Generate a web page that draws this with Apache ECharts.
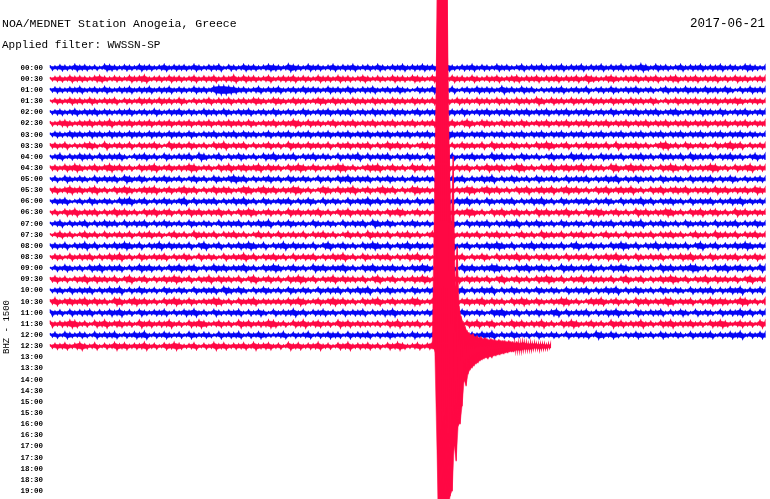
<!DOCTYPE html>
<html><head><meta charset="utf-8">
<script src="https://cdn.jsdelivr.net/npm/echarts@6/dist/echarts.min.js"></script>
<style>html,body{margin:0;padding:0;background:#fff}#c{width:770px;height:499px}</style>
</head><body><div id="c"></div>
<script>
// Row tick labels (30-minute rows)
const timeLabels = ['00:00','00:30','01:00','01:30','02:00','02:30','03:00','03:30','04:00','04:30',
  '05:00','05:30','06:00','06:30','07:00','07:30','08:00','08:30','09:00','09:30',
  '10:00','10:30','11:00','11:30','12:00','12:30','13:00','13:30','14:00','14:30',
  '15:00','15:30','16:00','16:30','17:00','17:30','18:00','18:30','19:00','19:30',
  '20:00','20:30','21:00','21:30','22:00','22:30','23:00','23:30'];

// Trace envelope amplitude (counts, one sample per 12.5 s) for full rows 00:00 .. 12:00
const rowNoise = [
 '54654 75645 37654 65475 64574 65647 54657 36547 56457 65486 54756 45746 57456 47546 57465 75648 75465 74654 75645 74657 46574 65746 57465 74658 64756 45746 57465 74654 76545',
 '45647 56546 75465 47568 45647 56457 46574 65847 56457 45657 46547 56475 64575 46547 56476 54765 47564 75465 74567 46574 65746 57486 54675 46574 65745 67465 74657 46475 64565',
 '46546 57456 47546 57465 74657 46547 56489 98756 45746 57456 47565 47564 75465 74564 75436 54765 47356 47565 48564 75635 46574 56473 56475 46574 56357 46475 64756 47536 47565',
 '36547 56475 46573 65475 64756 47536 45746 57456 47654 76547 56457 64756 47564 75647 56475 64755 64756 47564 75647 56486 47564 75647 56475 64756 47536 47565 74657 46576 45654',
 '45645 74657 46546 57456 47546 57465 47564 75465 74564 75465 47546 57465 74564 75647 56457 46574 56475 46574 65746 57465 74657 46574 56475 46574 65745 67456 47564 75465 74565',
 '54675 46574 65846 57465 74657 46574 65746 57564 75465 74658 64756 45746 57465 74657 46574 65746 57468 54765 47564 75465 74657 46574 65746 57465 74657 46574 65746 57465 74656',
 '46547 56475 64756 47564 75647 56475 46574 65747 56457 46574 65746 57465 74657 46574 65746 57465 86574 65746 57465 74657 46574 65746 57465 74657 46574 65746 57465 74657 46545',
 '56473 54675 38456 47365 57438 56475 46375 84657 36457 46385 64756 47365 74657 36485 74635 76458 36475 64738 56475 46375 86457 36475 64738 46574 63578 46375 46537 46857 36465',
 '45736 47563 74657 43657 46375 46573 86457 36475 46375 84657 36574 65374 65837 46573 64756 37456 47365 74638 57463 75463 57463 85746 37564 73657 46375 64738 56473 65746 35746',
 '56475 86457 46857 46375 68457 46587 45637 58467 56847 56375 86475 46587 46357 68457 46385 74658 74657 36485 76458 74637 58467 56847 56387 46857 46375 86475 46587 46375 68465',
 '46375 46537 46573 86475 36475 46357 46375 46857 36457 46375 46537 46375 84657 36475 46375 46537 46573 64758 36475 46375 46537 46573 64758 36475 46375 46537 46573 64753 64564',
 '57468 57468 46375 86457 68457 46857 36485 76458 74685 74658 74635 86475 68457 46857 36487 56485 74658 74685 74637 58467 58468 57463 75846 75846 37584 67584 65748 57465 74865',
 '46573 46375 46537 68457 36475 46837 46573 64758 46375 46573 64753 74653 74658 47365 74637 46573 64758 46375 46573 64758 46375 46573 64753 74658 47365 74637 46573 64758 46464',
 '46375 84657 36485 74637 58467 36485 74658 46375 86457 46385 74658 46375 84657 46375 86457 46385 74658 74637 58467 46385 74658 46375 86457 46385 74658 74637 58467 46385 74655',
 '45736 45736 47563 74657 36475 46375 46537 46573 64758 36475 46375 46537 46573 86475 36475 46375 46537 46573 64758 36475 46375 46537 46573 64758 36475 46375 46537 46573 64754',
 '35746 35746 37456 47365 74635 74638 56473 65746 35746 37456 47365 74635 74638 56473 65746 35746 37456 47365 74635 74638 56473 65746 35746 37456 47365 74635 74638 56473 65745',
 '56473 65847 36475 86473 65847 56473 68457 36475 86473 65847 56473 68457 46375 86473 65847 56473 68457 36475 86473 65847 56473 68457 46375 86473 65847 56473 68457 36475 86464',
 '46537 46573 64758 46375 46573 64753 74653 74658 47365 74637 46573 64758 46375 46573 64758 46375 46573 64753 74658 47365 74637 46573 64758 46375 46573 64758 46375 46573 64754',
 '36475 46375 84657 36485 74637 58467 36485 74658 46375 86457 46385 74658 46375 84657 46375 86457 46385 74658 74637 58467 46385 74658 46375 86457 46385 74658 74637 58467 46385',
 '57463 65847 56473 68457 36475 86473 65847 56473 68457 46375 86473 65847 56473 68457 36475 86473 65847 56473 68457 46375 86473 65847 56473 68457 36475 86473 65847 56473 68465',
 '45637 46573 64758 36475 46375 46537 46573 86475 36475 46375 46537 46573 64758 36475 46375 46537 46573 64758 36475 46375 46537 46573 64758 36475 46375 46537 46573 64758 36474',
 '58467 56847 56387 46857 46375 86475 46587 46375 68465 56475 86457 46857 46375 68457 46587 45637 58467 56847 56375 86475 46587 46357 68457 46385 74658 74657 36485 76458 74637',
 '74637 46573 64758 46375 46573 64758 46375 46573 64753 74658 47365 74637 46573 64758 46464 46573 46375 46537 68457 36475 46837 46573 64758 46375 46573 64753 74653 74658 47365',
 '74658 74637 58467 46385 74658 46375 86457 46385 74658 74637 58467 46385 74655 46375 84657 36485 74637 58467 36485 74658 46375 86457 46385 74658 46375 84657 46375 86457 46385',
 '46375 46537 46573 64758 36475 46375 46537 46573 64754 45736 45736 47563 74657 36475 46375 46537 46573 64758 36475 46375 46537 46573 86475 36475 46375 46537 46573 64758 36475'
];
// 12:30 row: background noise before the earthquake (12.5 s samples)
const lastRowNoise = '46574 68547 36485 74658 46375 86457 36485 74657 48567 46385 74658 46375 84657 46375 86457 468';
// Earthquake and coda from 12:46:15 on (5 s samples): upward / downward excursion, counts
const quakeUp = [700,700,700,700,700,700,400,240,380,120, 200,80,60,50,40,32,28,24,26,20,
  22,18,20,16,18,16,14,16,14,14, 12,14,12,12,12,10,12,10,10,8, 10,8,8,10,8,8,6,8,6,8, 6,6,6,6,6,4,6,4];
const quakeDown = [330,330,330,330,330,330,300,290,200,230, 160,156,120,70,80,56,48,44,40,36,
  34,30,28,26,24,26,22,24,20,20, 18,18,16,16,14,14,12,12,12,10, 10,10,10,8,8,8,8,8,6,6, 6,8,6,6,6,6,4,4];

const SAMPLE_MIN = 12.5 / 60;        // minutes per noise sample
const QUAKE_MIN = 5 / 60;            // minutes per quake sample
const AMP_TO_ROW = 0.5 / 11.14;      // counts -> row units

const parse = s => s.replace(/\s/g, '').split('').map(Number);
const traces = rowNoise.map(s => {
  const a = parse(s);
  return { up: a, down: a, xs: a.map((_, i) => i * 30 / (a.length - 1)) };
});
const ln = parse(lastRowNoise);
const quakeStart = ln.length * SAMPLE_MIN;
traces.push({
  up: ln.concat(quakeUp), down: ln.concat(quakeDown),
  xs: ln.map((_, i) => i * SAMPLE_MIN).concat(quakeUp.map((_, k) => quakeStart + k * QUAKE_MIN))
});

const BLUE = '#0505f5', RED = '#ff0844';
const chart = echarts.init(document.getElementById('c'), null, { renderer: 'canvas' });
chart.setOption({
  animation: false,
  backgroundColor: '#fff',
  grid: { left: 50, width: 715, top: 45.5, height: 467.9, containLabel: false, outerBoundsMode: 'none' },
  xAxis: { type: 'value', min: 0, max: 30, show: false },
  yAxis: {
    type: 'value', inverse: true, min: -2, max: 40, interval: 1,
    axisLine: { show: false }, axisTick: { show: false }, splitLine: { show: false },
    axisLabel: {
      margin: 7, color: '#000', fontFamily: 'Liberation Mono', fontWeight: 'bold', fontSize: 7.5,
      formatter: v => (v >= 0 && v < timeLabels.length) ? timeLabels[v] : ''
    }
  },
  graphic: [
    { type: 'text', x: 2, y: 23.5, style: { text: 'NOA/MEDNET Station Anogeia, Greece', font: '11.5px "Liberation Mono"', fill: '#000', verticalAlign: 'middle' } },
    { type: 'text', x: 2, y: 45.5, style: { text: 'Applied filter: WWSSN-SP', font: '11px "Liberation Mono"', fill: '#000', verticalAlign: 'middle' } },
    { type: 'text', x: 765, y: 23.5, style: { text: '2017-06-21', font: '12.5px "Liberation Mono"', fill: '#000', align: 'right', verticalAlign: 'middle' } },
    { type: 'text', x: 7, y: 327, rotation: Math.PI / 2, style: { text: 'BHZ - 1500', font: '9px "Liberation Mono"', fill: '#000', align: 'center', verticalAlign: 'middle' } }
  ],
  series: [{
    type: 'custom', clip: false,
    data: traces.map((t, i) => [0, i]),
    renderItem: function (params, api) {
      const r = api.value(1);
      const t = traces[r];
      const n = t.up.length;
      const xs = t.xs;
      const xEnd = xs[n - 1];
      const xb = i => i < n - 1 ? (xs[i] + xs[i + 1]) / 2 : xEnd;
      const coreAmp = a => Math.max(a - 2, 1);
      // solid core of the band
      const core = [api.coord([xs[0], r])];
      for (let i = 0; i < n; i++) core.push(api.coord([xs[i], r - coreAmp(t.up[i]) * AMP_TO_ROW]));
      core.push(api.coord([xEnd, r]));
      for (let i = n - 1; i >= 0; i--) core.push(api.coord([xb(i), r + coreAmp(t.down[i]) * AMP_TO_ROW]));
      // oscillating trace: alternate between upward and downward excursions
      const zig = [];
      for (let i = 0; i < n; i++) {
        zig.push(api.coord([xs[i], r - t.up[i] * AMP_TO_ROW]));
        zig.push(api.coord([xb(i), r + t.down[i] * AMP_TO_ROW]));
      }
      const color = r % 2 === 0 ? BLUE : RED;
      const z2 = r === traces.length - 1 ? 100 : r;
      return { type: 'group', children: [
        { type: 'polygon', z2: z2, shape: { points: core }, style: { fill: color, stroke: color, lineWidth: 0.5 } },
        { type: 'polyline', z2: z2, shape: { points: zig }, style: { fill: null, stroke: color, lineWidth: 1.1 } }
      ] };
    }
  }]
});
</script></body></html>
